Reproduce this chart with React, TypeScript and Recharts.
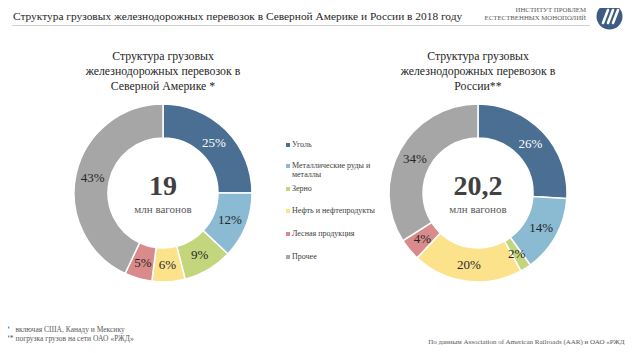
import { Cell, Pie, PieChart } from "recharts";

const categories = [
  "Уголь",
  "Металлические руды и металлы",
  "Зерно",
  "Нефть и нефтепродукты",
  "Лесная продукция",
  "Прочее",
];
const colors = ["#4a6f92", "#8bbad3", "#c3d67d", "#fde28c", "#d98b8b", "#a6a6a6"];
const northAmerica = [25, 12, 9, 6, 5, 43];
const russia = [26, 14, 2, 20, 4, 34];

const naData = categories.map((name, i) => ({ name, value: northAmerica[i] }));
const ruData = categories.map((name, i) => ({ name, value: russia[i] }));

const serif = "'Liberation Serif', 'DejaVu Serif', serif";
const RAD = Math.PI / 180;

function renderLabel(props: any) {
  const { cx, cy, midAngle, innerRadius, outerRadius, value, index } = props;
  const r = (innerRadius + outerRadius) / 2;
  const x = cx + r * Math.cos(-midAngle * RAD);
  const y = cy + r * Math.sin(-midAngle * RAD);
  return (
    <text
      x={x}
      y={y}
      textAnchor="middle"
      dominantBaseline="central"
      fontFamily={serif}
      fontSize={13}
      fill={index === 0 ? "#ffffff" : "#262626"}
    >
      {value}%
    </text>
  );
}

function Subtitle({ x, lines }: { x: number; lines: string[] }) {
  return (
    <div
      style={{
        position: "absolute",
        left: x - 110,
        top: 49,
        width: 220,
        textAlign: "center",
        fontFamily: serif,
        fontSize: 11.8,
        lineHeight: "15px",
        color: "#262626",
      }}
    >
      {lines.map((l) => (
        <div key={l}>{l}</div>
      ))}
    </div>
  );
}

function Center({ x, value }: { x: number; value: string }) {
  return (
    <div
      style={{
        position: "absolute",
        left: x - 50,
        top: 170,
        width: 100,
        textAlign: "center",
        fontFamily: serif,
        color: "#404040",
      }}
    >
      <div style={{ fontSize: 28, fontWeight: "bold", lineHeight: "32px" }}>{value}</div>
      <div style={{ fontSize: 11, lineHeight: "14px", color: "#595959" }}>млн вагонов</div>
    </div>
  );
}

const legendTops = [140, 161, 184, 206, 229, 252];
const pieProps = {
  dataKey: "value",
  cy: 193,
  innerRadius: 55,
  outerRadius: 89,
  startAngle: 90,
  endAngle: -270,
  stroke: "#fff",
  strokeWidth: 1.5,
  labelLine: false,
  isAnimationActive: false,
};

export default function App() {
  return (
    <div style={{ position: "relative", width: 633, height: 353, margin: -8, background: "#fff", overflow: "hidden" }}>
      <div style={{ position: "absolute", left: 13, top: 10, fontFamily: serif, fontSize: 11.4, color: "#262626", whiteSpace: "nowrap" }}>
        Структура грузовых железнодорожных перевозок в Северной Америке и России в 2018 году
      </div>
      <div style={{ position: "absolute", left: 12, top: 25, width: 578, height: 1, background: "#d0d0d0" }} />
      <div
        style={{
          position: "absolute",
          right: 47,
          top: 6,
          textAlign: "right",
          fontFamily: serif,
          fontSize: 6.8,
          lineHeight: "8px",
          color: "#595959",
          whiteSpace: "nowrap",
        }}
      >
        <div>ИНСТИТУТ ПРОБЛЕМ</div>
        <div>ЕСТЕСТВЕННЫХ МОНОПОЛИЙ</div>
      </div>
      <svg style={{ position: "absolute", left: 596, top: 3 }} width={27} height={27}>
        <circle cx={13.5} cy={13.5} r={13} fill="#3e5c82" />
        <path d="M7 20 L12 7 M12 20 L17 7 M17 20 L22 7" stroke="#fff" strokeWidth={2.6} strokeLinecap="round" />
      </svg>

      <Subtitle x={163} lines={["Структура грузовых", "железнодорожных перевозок в", "Северной Америке *"]} />
      <Subtitle x={478} lines={["Структура грузовых", "железнодорожных перевозок в", "России**"]} />

      <div style={{ position: "absolute", left: 0, top: 0 }}>
        <PieChart width={633} height={353} margin={{ top: 0, right: 0, bottom: 0, left: 0 }}>
          <Pie data={naData} cx={163} label={renderLabel} {...pieProps}>
            {naData.map((d, i) => (
              <Cell key={d.name} fill={colors[i]} />
            ))}
          </Pie>
          <Pie data={ruData} cx={478} label={renderLabel} {...pieProps}>
            {ruData.map((d, i) => (
              <Cell key={d.name} fill={colors[i]} />
            ))}
          </Pie>
        </PieChart>
      </div>

      <Center x={163} value="19" />
      <Center x={478} value="20,2" />

      {categories.map((c, i) => (
        <div
          key={c}
          style={{
            position: "absolute",
            left: 286,
            top: legendTops[i],
            width: 90,
            fontFamily: serif,
            fontSize: 8,
            lineHeight: "9px",
            color: "#404040",
            display: "flex",
          }}
        >
          <span
            style={{ width: 4, height: 4, background: colors[i], marginTop: 2.5, marginRight: 2, flexShrink: 0 }}
          />
          <span>{c}</span>
        </div>
      ))}

      <div style={{ position: "absolute", left: 6, top: 325, fontFamily: serif, fontSize: 7.5, lineHeight: "9px", color: "#595959", whiteSpace: "nowrap" }}>
        <div>*&nbsp;&nbsp;&nbsp;включая США, Канаду и Мексику</div>
        <div>**&nbsp;погрузка грузов на сети ОАО «РЖД»</div>
      </div>
      <div style={{ position: "absolute", right: 5, top: 338, fontFamily: serif, fontSize: 7, color: "#595959", whiteSpace: "nowrap" }}>
        По данным Association of American Railroads (AAR) и ОАО «РЖД»
      </div>
    </div>
  );
}
